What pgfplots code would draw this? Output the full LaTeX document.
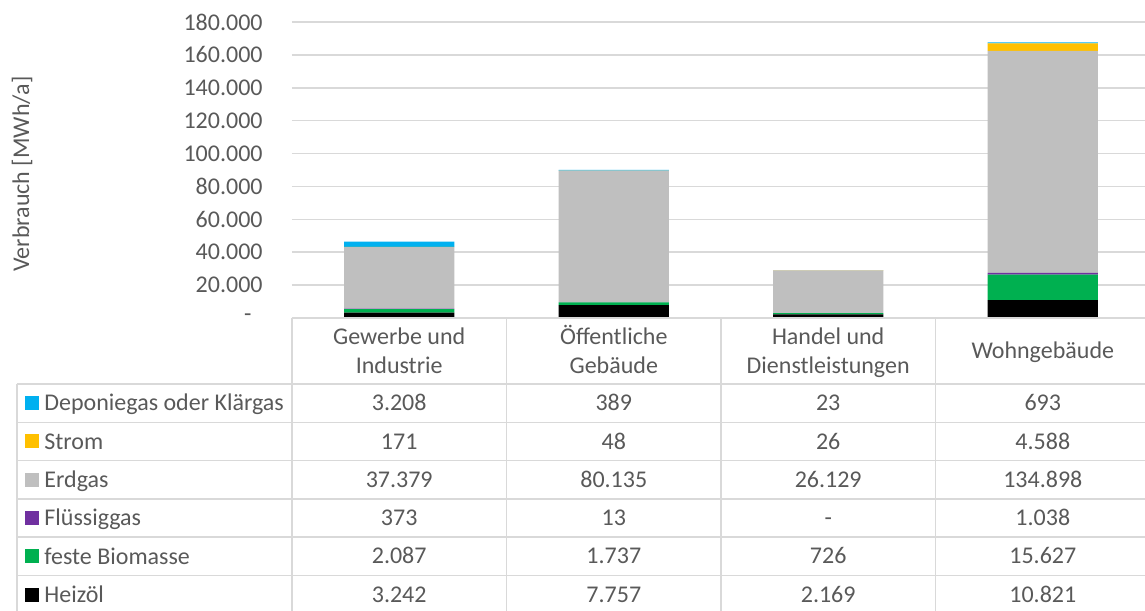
\documentclass[border=0pt]{standalone}
\usepackage{pgfplots}
\pgfplotsset{compat=1.18}
\usepackage{pgfplotstable}
\usepackage{fontspec}
\setmainfont{Carlito}
\definecolor{txt}{HTML}{595959}
\definecolor{gridc}{HTML}{D9D9D9}
\definecolor{cdep}{HTML}{00B0F0}
\definecolor{cstrom}{HTML}{FFC000}
\definecolor{cerd}{HTML}{BFBFBF}
\definecolor{cfl}{HTML}{7030A0}
\definecolor{cbio}{HTML}{00B050}
\definecolor{cheiz}{HTML}{000000}

\pgfplotstableread{
x heiz bio fl erd strom dep
0 3242 2087 373 37379 171 3208
1 7757 1737 13 80135 48 389
2 2169 726 0 26129 26 23
3 10821 15627 1038 134898 4588 693
}\data

\begin{document}
\begin{tikzpicture}[font=\fontsize{12}{14}\selectfont, text=txt]
\begin{axis}[
  at={(0,0)}, anchor=south west,
  scale only axis, width=429pt, height=148pt,
  xmin=-0.5, xmax=3.5, ymin=0, ymax=180000,
  ybar stacked, bar width=0.513,
  xtick=\empty,
  scaled y ticks=false,
  ytick={0,20000,40000,60000,80000,100000,120000,140000,160000,180000},
  yticklabels={{-\hspace*{5.5pt}\null},20.000,40.000,60.000,80.000,100.000,120.000,140.000,160.000,180.000},
  ymajorgrids, grid style={gridc, line width=0.75pt},
  axis line style={draw=none},
  major tick length=0pt, tick style={draw=none},
  yticklabel style={anchor=east, inner sep=0pt, xshift=-14.5pt, text=txt},
  clip=false,
]
\addplot[fill=cheiz, draw=none] table[x=x,y=heiz]{\data};
\addplot[fill=cbio, draw=none] table[x=x,y=bio]{\data};
\addplot[fill=cfl, draw=none] table[x=x,y=fl]{\data};
\addplot[fill=cerd, draw=none] table[x=x,y=erd]{\data};
\addplot[fill=cstrom, draw=none] table[x=x,y=strom]{\data};
\addplot[fill=cdep, draw=none] table[x=x,y=dep]{\data};
\end{axis}

\node[rotate=90] at (-135pt,72pt) {Verbrauch [MWh/a]};

% table grid
\begin{scope}[gridc, line width=0.75pt]
\draw (0,0) -- (429pt,0);
\foreach \y in {-33,-52.15,-71.3,-90.45,-109.6,-128.75,-147.9}
  \draw (-137.5pt,\y pt) -- (429pt,\y pt);
\draw (-137.5pt,-33pt) -- (-137.5pt,-147.9pt);
\foreach \x in {0,107.25,214.5,321.75,429}
  \draw (\x pt,0) -- (\x pt,-147.9pt);
\end{scope}

% header
\node[anchor=base] at (53.6pt,-13.5pt) {Gewerbe und};
\node[anchor=base] at (53.6pt,-27.5pt) {Industrie};
\node[anchor=base] at (160.9pt,-13.5pt) {Öffentliche};
\node[anchor=base] at (160.9pt,-27.5pt) {Gebäude};
\node[anchor=base] at (268.1pt,-13.5pt) {Handel und};
\node[anchor=base] at (268.1pt,-27.5pt) {Dienstleistungen};
\node[anchor=base] at (375.4pt,-20.5pt) {Wohngebäude};

% rows
\foreach \yc/\col/\name/\a/\b/\c/\d in {
  -42.575/cdep/Deponiegas oder Klärgas/3.208/389/23/693,
  -61.725/cstrom/Strom/171/48/26/4.588,
  -80.875/cerd/Erdgas/37.379/80.135/26.129/134.898,
  -100.025/cfl/Flüssiggas/373/13/-/1.038,
  -119.175/cbio/feste Biomasse/2.087/1.737/726/15.627,
  -138.325/cheiz/Heizöl/3.242/7.757/2.169/10.821}{
  \fill[\col] (-133.5pt,\yc pt-3.5pt) rectangle ++(7pt,7pt);
  \node[anchor=base west, inner sep=0pt] at (-124pt,\yc pt-3.9pt) {\name};
  \node[anchor=base] at (53.6pt,\yc pt-3.8pt) {\a};
  \node[anchor=base] at (160.9pt,\yc pt-3.8pt) {\b};
  \node[anchor=base] at (268.1pt,\yc pt-3.8pt) {\c};
  \node[anchor=base] at (375.4pt,\yc pt-3.8pt) {\d};
}

\pgfresetboundingbox
\useasboundingbox (-146pt,-146pt) rectangle (426.5pt,159pt);
\end{tikzpicture}
\end{document}
